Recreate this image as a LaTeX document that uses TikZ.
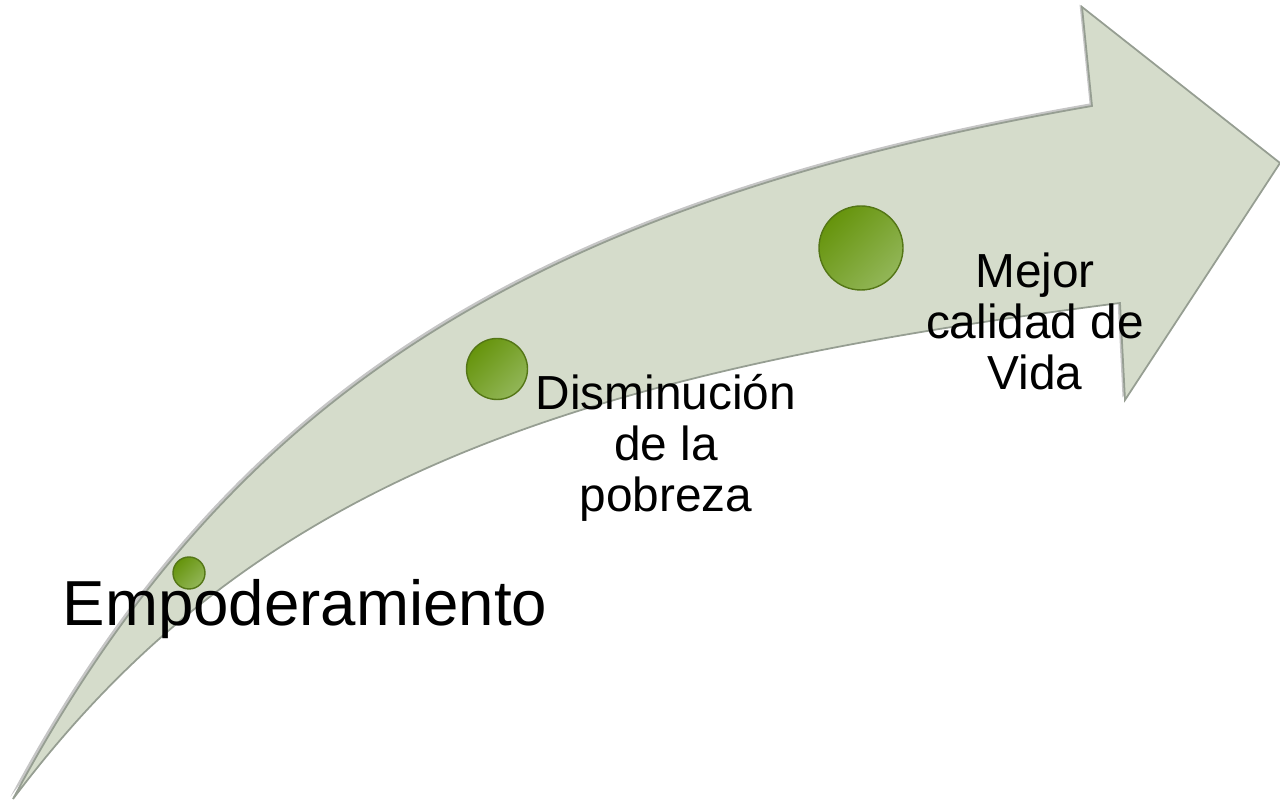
\documentclass[tikz,border=0pt]{standalone}
\usepackage{fontspec}
\setmainfont{Liberation Sans}
\usetikzlibrary{shadows}
\definecolor{arrowfill}{RGB}{213,220,203}
\definecolor{arrowline}{RGB}{150,158,146}
\definecolor{hitodark}{RGB}{102,148,12}
\definecolor{hitolight}{RGB}{146,182,88}
\definecolor{hitorim}{RGB}{84,118,22}
\tikzstyle{hito}=[circle,draw=hitorim,line width=0.4pt,top color=hitodark,bottom color=hitolight,shading angle=45,inner sep=0pt]
\tikzstyle{etapa}=[align=center,inner sep=0pt,font=\fontsize{13.6}{14.5}\selectfont]

\begin{document}
\begin{tikzpicture}[x=0.1mm,y=-0.1mm]
\useasboundingbox (0,0) rectangle (1280,800);
% curved arrow
\fill [arrowfill, draw=arrowline, line width=0.5pt,
       drop shadow={shadow xshift=-0.7pt, shadow yshift=0.7pt, opacity=0.45}]
	(13,799) .. controls (225,403) and (521,205) .. (1092,106)
	-- (1082,7) -- (1280,163) -- (1125,400) -- (1120,303)
	.. controls (574,373) and (253,479) .. (13,799) -- cycle;
% milestones
\node [hito, minimum size=3.2mm] (h1) at (189,573) {};
\node [hito, minimum size=6.1mm] (h2) at (497,369) {};
\node [hito, minimum size=8.4mm] (h3) at (861,248) {};
% labels
\node [anchor=base west, inner sep=0pt, font=\fontsize{18.1}{20}\selectfont] (emp) at (62,626) {Empoderamiento};
\node [etapa] (dis) at (666,448) {Disminución\\de la\\pobreza};
\node [etapa] (mej) at (1035,321) {Mejor\\calidad de\\Vida};
\end{tikzpicture}
\end{document}
